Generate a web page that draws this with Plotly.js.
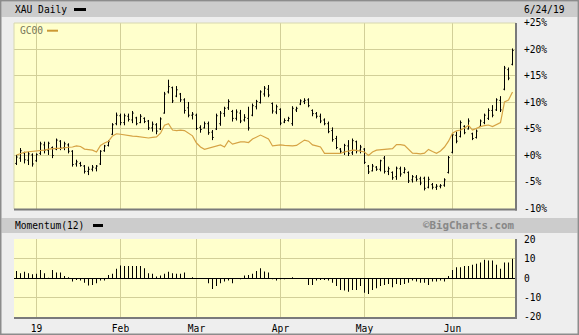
<!DOCTYPE html>
<html>
<head>
<meta charset="utf-8">
<script src="https://cdn.plot.ly/plotly-3.0.1.min.js"></script>
<style>html,body{margin:0;padding:0;background:#eeeeee;}#chart{width:579px;height:335px;}</style>
</head>
<body>
<div id="chart"></div>
<script>
// ---- data ----
const dates = [
"2018-12-24","2018-12-26","2018-12-27","2018-12-28","2018-12-31",
"2019-01-02","2019-01-03","2019-01-04","2019-01-07","2019-01-08","2019-01-09","2019-01-10","2019-01-11","2019-01-14","2019-01-15","2019-01-16","2019-01-17","2019-01-18","2019-01-22","2019-01-23","2019-01-24","2019-01-25","2019-01-28","2019-01-29","2019-01-30","2019-01-31",
"2019-02-01","2019-02-04","2019-02-05","2019-02-06","2019-02-07","2019-02-08","2019-02-11","2019-02-12","2019-02-13","2019-02-14","2019-02-15","2019-02-19","2019-02-20","2019-02-21","2019-02-22","2019-02-25","2019-02-26","2019-02-27","2019-02-28",
"2019-03-01","2019-03-04","2019-03-05","2019-03-06","2019-03-07","2019-03-08","2019-03-11","2019-03-12","2019-03-13","2019-03-14","2019-03-15","2019-03-18","2019-03-19","2019-03-20","2019-03-21","2019-03-22","2019-03-25","2019-03-26","2019-03-27","2019-03-28","2019-03-29",
"2019-04-01","2019-04-02","2019-04-03","2019-04-04","2019-04-05","2019-04-08","2019-04-09","2019-04-10","2019-04-11","2019-04-12","2019-04-15","2019-04-16","2019-04-17","2019-04-18","2019-04-22","2019-04-23","2019-04-24","2019-04-25","2019-04-26","2019-04-29","2019-04-30",
"2019-05-01","2019-05-02","2019-05-03","2019-05-06","2019-05-07","2019-05-08","2019-05-09","2019-05-10","2019-05-13","2019-05-14","2019-05-15","2019-05-16","2019-05-17","2019-05-20","2019-05-21","2019-05-22","2019-05-23","2019-05-24","2019-05-28","2019-05-29","2019-05-30","2019-05-31",
"2019-06-03","2019-06-04","2019-06-05","2019-06-06","2019-06-07","2019-06-10","2019-06-11","2019-06-12","2019-06-13","2019-06-14","2019-06-17","2019-06-18","2019-06-19","2019-06-20","2019-06-21","2019-06-24"
];
const xauOpen = [
-1.5,-0.5,0.5,-0.9,0.1,-1.0,0.4,2.0,1.0,1.5,
1.2,2.7,1.5,2.0,0.8,-1.6,-1.5,-2.0,-3.0,-2.6,
-2.4,-1.6,0.9,1.9,4.0,6.0,7.5,6.2,7.4,6.7,
7.1,6.2,7.0,6.5,5.2,5.8,5.0,8.0,12.0,12.8,
11.2,11.6,10.5,9.0,7.6,7.6,5.3,5.2,6.0,4.4,
5.0,6.0,7.9,9.0,8.3,7.0,8.0,6.7,7.0,7.6,
9.2,10.0,11.6,12.5,9.8,8.2,8.7,6.3,6.6,6.0,
8.6,9.7,10.2,10.5,8.5,7.9,7.4,6.7,6.0,4.7,
3.2,1.2,0.6,1.8,0.5,2.6,1.0,1.2,-2.0,-2.9,
-2.2,-2.6,-0.5,-3.0,-3.2,-4.0,-2.5,-3.2,-3.2,-4.6,
-4.1,-4.4,-4.3,-6.0,-5.5,-6.0,-5.8,-5.6,-3.2,0.6,
3.8,3.6,5.5,5.0,4.1,3.4,5.5,6.2,7.0,8.5,
8.6,10.4,12.5,16.2,17.2];
const xauHigh = [
0.1,1.4,0.7,0.7,0.4,0.4,2.6,2.6,2.6,1.7,
3.2,2.9,2.6,2.3,1.0,-0.8,-1.2,-1.8,-2.1,-1.8,
-1.8,1.0,2.0,2.9,6.1,8.1,7.9,7.9,7.9,8.4,
7.3,7.8,7.2,6.7,6.4,6.1,7.2,12.0,14.3,13.0,
13.1,11.8,10.8,10.1,8.2,7.9,5.7,6.4,6.4,4.8,
7.9,8.4,9.2,10.6,8.6,8.7,8.6,7.8,9.2,9.8,
10.5,12.3,13.1,13.3,10.0,9.6,8.9,7.0,7.3,9.3,
9.2,10.6,10.8,10.8,8.7,8.2,7.9,7.0,6.4,5.3,
3.7,1.4,2.2,2.9,3.2,2.8,2.0,1.4,-1.8,-1.6,
-2.0,-0.8,-0.1,-2.1,-3.0,-2.1,-2.1,-2.2,-3.0,-3.7,
-3.7,-4.0,-4.0,-4.0,-5.2,-5.4,-5.4,-4.3,-0.1,4.2,
4.5,6.6,5.7,7.0,4.3,4.9,6.8,7.9,8.9,9.5,
10.8,11.2,16.9,16.6,20.2];
const xauLow = [
-1.8,-1.2,-1.5,-1.8,-2.1,-1.2,0.1,0.4,0.1,-0.5,
1.0,1.0,1.0,0.4,-2.1,-2.1,-2.1,-3.4,-3.7,-3.0,
-3.0,-1.8,0.7,1.7,3.9,5.7,5.7,5.7,6.4,6.1,
5.7,6.1,6.1,4.8,4.5,4.0,4.8,7.9,11.7,9.9,
11.0,10.1,7.9,7.2,6.8,4.8,4.3,5.1,3.9,2.9,
4.8,5.6,7.3,8.6,6.4,6.6,6.1,6.4,4.7,7.4,
8.7,9.8,11.1,11.0,7.9,7.8,5.7,6.1,6.4,5.6,
8.2,9.5,9.7,9.1,7.4,7.0,6.1,5.7,4.2,2.6,
1.2,0.4,0.1,-0.1,0.1,0.4,0.4,-1.6,-3.5,-3.0,
-2.9,-3.0,-3.4,-3.7,-4.6,-4.6,-4.0,-3.4,-5.2,-5.1,
-4.9,-5.6,-6.6,-6.2,-6.4,-6.5,-6.2,-5.9,-3.4,0.4,
2.3,3.4,4.0,4.9,2.9,3.2,5.4,5.9,6.7,7.2,
8.4,8.2,12.3,14.2,17.0];
const xauClose = [
-0.3,0.9,-0.8,0.3,-1.6,0.2,2.2,1.0,2.3,0.0,
2.9,1.4,2.2,0.8,-1.7,-1.2,-1.9,-3.0,-2.6,-2.2,
-2.0,0.8,1.8,2.6,5.8,7.6,6.2,7.5,6.8,8.0,
6.0,7.4,6.4,5.2,5.9,4.6,6.9,11.6,13.0,10.3,
12.4,10.5,8.5,7.6,7.8,5.1,4.9,6.0,4.3,3.4,
7.5,8.0,8.9,10.2,7.0,8.2,6.5,7.2,5.2,9.4,
10.2,12.0,12.7,11.4,8.4,9.2,6.1,6.6,7.0,8.9,
8.9,10.3,10.4,9.4,7.9,7.4,6.5,6.0,4.5,3.0,
1.5,0.8,1.9,0.4,2.8,0.9,1.6,-1.3,-3.1,-2.0,
-2.6,-1.0,-3.0,-2.5,-4.2,-2.4,-3.5,-2.6,-4.8,-4.0,
-4.5,-5.2,-6.2,-4.5,-6.0,-5.8,-5.7,-4.6,-0.4,3.9,
2.7,6.2,4.3,6.5,3.2,4.6,6.5,7.6,8.5,7.6,
10.5,8.6,16.5,14.6,19.8];
const gc00 = [
0.1,0.4,0.6,0.7,0.75,0.85,0.9,1.0,1.2,1.3,
1.35,1.35,1.5,1.55,1.6,1.8,1.7,1.2,1.1,1.0,
0.65,1.9,2.35,2.7,3.7,4.1,4.0,3.85,3.75,3.65,
3.6,3.5,3.4,3.3,3.4,3.5,4.2,5.7,6.0,4.8,
4.7,4.8,4.7,4.2,3.7,2.35,1.6,1.15,1.35,1.5,
1.8,2.0,1.6,2.8,2.15,2.35,2.55,2.55,2.45,3.1,
3.5,3.85,3.5,3.1,1.8,1.9,2.0,1.9,1.8,1.8,
1.9,2.35,2.9,2.7,2.0,1.8,1.6,0.4,0.4,0.4,
0.4,0.4,0.65,0.85,1.0,0.95,0.85,0.65,0.0,0.65,
1.0,1.1,1.15,1.3,1.3,2.05,2.05,1.9,1.2,0.45,
0.4,0.3,0.45,1.15,0.75,0.4,0.85,1.6,2.7,4.2,
4.65,4.8,5.2,5.7,4.8,5.2,5.45,5.65,5.75,5.45,
5.75,6.2,10.1,10.45,12.0];
const momentum = [
3.8,2.6,3.3,2.6,2.1,2.3,4.3,2.6,0.3,4.3,
3.0,3.0,1.2,0.5,-1.7,-0.9,-1.2,-2.3,-3.8,-3.5,
-2.6,-1.2,-1.2,1.7,2.3,4.9,6.6,6.4,6.4,6.4,
6.4,6.3,5.2,2.6,2.3,0.9,1.4,2.3,3.3,2.6,
2.3,2.3,3.0,0,0.5,0,0,0,-2.6,-5.6,
-4.0,-2.6,-1.7,-1.2,-2.6,0,-0.5,1.4,1.7,2.3,
3.8,5.2,3.5,3.0,-0.5,-1.2,-0.5,-0.5,0,0.5,
0,0,0,-3.5,-3.5,-1.2,-0.9,-0.9,-1.2,-2.3,
-4.0,-6.1,-6.4,-7.0,-6.1,-6.1,-4.0,-7.5,-8.2,-6.1,
-5.2,-4.0,-3.5,-3.0,-4.7,-3.0,-3.5,-3.0,-2.3,-1.2,
-1.7,-2.3,-2.3,-3.5,-1.7,-1.7,-1.2,-1.7,1.2,4.3,
5.7,5.7,6.4,6.4,7.0,7.5,8.2,9.6,9.2,9.2,
7.0,4.9,8.2,8.2,10.1];
const monthTickDates = ["2019-01-02","2019-02-01","2019-03-01","2019-04-01","2019-05-01","2019-06-03"];
const monthTickLabels = ["19","Feb","Mar","Apr","May","Jun"];
const pctTicks = [-10,-5,0,5,10,15,20,25];
const pctLabels = ["-10%","-5%","+0%","+5%","+10%","+15%","+20%","+25%"];
const momTicks = [-20,-10,0,10,20];
const momLabels = ["-20","-10","0","10","20"];

// ---- layout helpers ----
const W = 579, H = 335;
const px = v => v / W;
const py = v => 1 - v / H;
const MONO = "DejaVu Sans Mono";
const GRID = "#d2cf98";

const traces = [
  {type:"ohlc", x:dates, open:xauOpen, high:xauHigh, low:xauLow, close:xauClose,
   xaxis:"x", yaxis:"y", tickwidth:0.3,
   increasing:{line:{color:"#000000", width:1}}, decreasing:{line:{color:"#000000", width:1}},
   hoverinfo:"skip"},
  {type:"scatter", mode:"lines", x:dates, y:gc00, xaxis:"x", yaxis:"y",
   line:{color:"#d6a344", width:1.2}, hoverinfo:"skip"},
  {type:"bar", x:dates, y:momentum, xaxis:"x2", yaxis:"y2", width:0.25,
   marker:{color:"#000000", line:{width:0}}, hoverinfo:"skip"}
];

const xBase = {
  type:"category", range:[-0.625, 124.875], domain:[px(14), px(516)],
  tickvals:monthTickDates, showgrid:true, gridcolor:GRID, gridwidth:1,
  zeroline:false, showline:false, fixedrange:true
};

const layout = {
  width:W, height:H, margin:{l:0, r:0, t:0, b:0},
  paper_bgcolor:"#eeeeee", plot_bgcolor:"#ffffcc", showlegend:false,
  xaxis: Object.assign({}, xBase, {anchor:"y", showticklabels:false, ticks:"", rangeslider:{visible:false}}),
  xaxis2: Object.assign({}, xBase, {anchor:"y2", ticktext:monthTickLabels, showticklabels:true,
     ticks:"outside", ticklen:2, tickcolor:"rgba(0,0,0,0)",
     tickfont:{family:MONO, size:9.6, color:"#000000"}}),
  yaxis: {domain:[py(209), py(23)], range:[-10.1, 25.0], side:"right", anchor:"x",
     tickvals:pctTicks, ticktext:pctLabels, showgrid:true, gridcolor:GRID, zeroline:false,
     ticks:"outside", ticklen:5, tickcolor:"rgba(0,0,0,0)",
     tickfont:{family:MONO, size:9.6, color:"#000000"}, fixedrange:true},
  yaxis2: {domain:[py(317.5), py(239)], range:[-20.3, 20.3], side:"right", anchor:"x2",
     tickvals:momTicks, ticktext:momLabels, showgrid:true, gridcolor:GRID,
     zeroline:true, zerolinecolor:"#000000", zerolinewidth:1,
     ticks:"outside", ticklen:5, tickcolor:"rgba(0,0,0,0)",
     tickfont:{family:MONO, size:9.6, color:"#000000"}, fixedrange:true},
  shapes: [
    {type:"rect", xref:"paper", yref:"paper", x0:px(1.5), x1:px(577.5), y0:py(17), y1:py(1.5), fillcolor:"#cccccc", line:{width:0}, layer:"below"},
    {type:"rect", xref:"paper", yref:"paper", x0:px(1.5), x1:px(577.5), y0:py(233), y1:py(218), fillcolor:"#cccccc", line:{width:0}, layer:"below"},
    {type:"rect", xref:"paper", yref:"paper", x0:0, x1:1, y0:0, y1:1, line:{color:"#8c8c8c", width:3}},
    // bevel of the main plot
    {type:"line", xref:"paper", yref:"paper", x0:px(14), x1:px(516), y0:py(23), y1:py(23), line:{color:"#d8d8b0", width:1}},
    {type:"line", xref:"paper", yref:"paper", x0:px(14), x1:px(14), y0:py(209), y1:py(23), line:{color:"#d8d8b0", width:1}},
    {type:"line", xref:"paper", yref:"paper", x0:px(14), x1:px(517), y0:py(209.5), y1:py(209.5), line:{color:"#7a7a7a", width:2}},
    {type:"line", xref:"paper", yref:"paper", x0:px(516), x1:px(516), y0:py(210.5), y1:py(23), line:{color:"#7a7a7a", width:2}},
    // bevel of the momentum plot
    {type:"line", xref:"paper", yref:"paper", x0:px(14), x1:px(517), y0:py(318), y1:py(318), line:{color:"#7a7a7a", width:2}},
    {type:"line", xref:"paper", yref:"paper", x0:px(516), x1:px(516), y0:py(319), y1:py(239), line:{color:"#7a7a7a", width:2}},
    // legend swatches
    {type:"rect", xref:"paper", yref:"paper", x0:px(74), x1:px(86), y0:py(11), y1:py(8), fillcolor:"#000000", line:{width:0}},
    {type:"rect", xref:"paper", yref:"paper", x0:px(47), x1:px(58), y0:py(31.7), y1:py(29.7), fillcolor:"#cc9933", line:{width:0}},
    {type:"rect", xref:"paper", yref:"paper", x0:px(93), x1:px(103), y0:py(227), y1:py(224), fillcolor:"#000000", line:{width:0}}
  ],
  annotations: [
    {text:"XAU Daily", xref:"paper", yref:"paper", x:px(13), y:py(9.7), xanchor:"left", yanchor:"middle", showarrow:false, font:{family:MONO, size:9.6, color:"#000000"}},
    {text:"6/24/19", xref:"paper", yref:"paper", x:px(522), y:py(9.7), xanchor:"left", yanchor:"middle", showarrow:false, font:{family:MONO, size:9.6, color:"#000000"}},
    {text:"GC00", xref:"paper", yref:"paper", x:px(18), y:py(30.7), xanchor:"left", yanchor:"middle", showarrow:false, font:{family:MONO, size:9.6, color:"#77775a"}},
    {text:"Momentum(12)", xref:"paper", yref:"paper", x:px(13), y:py(225.5), xanchor:"left", yanchor:"middle", showarrow:false, font:{family:MONO, size:9.6, color:"#000000"}},
    {text:"<b>©BigCharts.com</b>", xref:"paper", yref:"paper", x:px(517), y:py(225.5), xanchor:"right", yanchor:"middle", showarrow:false, font:{family:MONO, size:10.8, color:"#888888"}}
  ]
};

Plotly.newPlot("chart", traces, layout, {staticPlot:true, displayModeBar:false});
</script>
</body>
</html>
